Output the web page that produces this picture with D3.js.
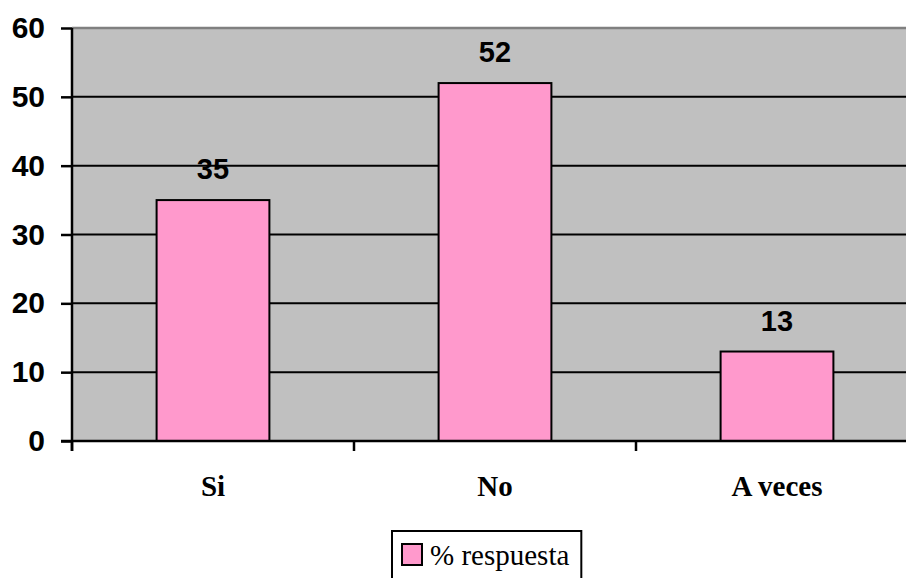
<!DOCTYPE html>
<html>
<head>
<meta charset="utf-8">
<script src="https://cdn.jsdelivr.net/npm/d3@7"></script>
<style>
  html, body { margin: 0; padding: 0; background: #fff; }
  svg { display: block; }
</style>
</head>
<body>
<svg id="chart" width="906" height="578"></svg>
<script>
// Survey answers and their share of responses (%)
const categories = ["Si", "No", "A veces"];
const values = [35, 52, 13];
const yTicks = [0, 10, 20, 30, 40, 50, 60];
const seriesName = "% respuesta";

const svg = d3.select("#chart");
const plot = { left: 72, right: 918, top: 28, bottom: 441 };

const x = d3.scaleBand()
  .domain(categories)
  .range([plot.left, plot.right])
  .paddingInner(0.6)
  .paddingOuter(0.3);

const y = d3.scaleLinear().domain([0, 60]).range([plot.bottom, plot.top]);

// plot area background
svg.append("rect")
  .attr("x", plot.left).attr("y", plot.top)
  .attr("width", plot.right - plot.left).attr("height", plot.bottom - plot.top)
  .attr("fill", "#c0c0c0");

// top border of plot area
svg.append("line")
  .attr("x1", plot.left).attr("x2", plot.right)
  .attr("y1", plot.top).attr("y2", plot.top)
  .attr("stroke", "#808080").attr("stroke-width", 2.5);

// horizontal gridlines
svg.append("g").selectAll("line")
  .data(yTicks.filter(d => d > 0 && d < 60))
  .join("line")
  .attr("x1", plot.left).attr("x2", plot.right)
  .attr("y1", d => y(d)).attr("y2", d => y(d))
  .attr("stroke", "#000").attr("stroke-width", 2);

// bars
svg.append("g").selectAll("rect")
  .data(values)
  .join("rect")
  .attr("x", (d, i) => x(categories[i]))
  .attr("y", d => y(d))
  .attr("width", x.bandwidth())
  .attr("height", d => y(0) - y(d))
  .attr("fill", "#ff99cc")
  .attr("stroke", "#000")
  .attr("stroke-width", 2);

// value labels
svg.append("g").selectAll("text")
  .data(values)
  .join("text")
  .attr("x", (d, i) => x(categories[i]) + x.bandwidth() / 2)
  .attr("y", d => y(d) - 21)
  .attr("text-anchor", "middle")
  .attr("font-family", "Arial, 'Liberation Sans', sans-serif")
  .attr("font-weight", "bold")
  .attr("font-size", 29)
  .text(d => d);

// y axis
const yAxis = d3.axisLeft(y).tickValues(yTicks).tickSize(11).tickSizeOuter(0).tickPadding(16);
const gy = svg.append("g").attr("transform", `translate(${plot.left},0)`).call(yAxis);
gy.select(".domain").attr("stroke", "#000").attr("stroke-width", 2.5)
  .attr("d", `M0,${plot.top}V${plot.bottom + 10}`);
gy.selectAll(".tick line").attr("stroke", "#000").attr("stroke-width", 2.5);
gy.selectAll(".tick text")
  .attr("font-family", "Arial, 'Liberation Sans', sans-serif")
  .attr("font-weight", "bold")
  .attr("font-size", 30)
  .attr("fill", "#000");

// x axis with ticks at category boundaries
const gx = svg.append("g").attr("transform", `translate(0,${plot.bottom})`);
gx.append("line")
  .attr("x1", plot.left - 11).attr("x2", plot.right)
  .attr("y1", 0).attr("y2", 0)
  .attr("stroke", "#000").attr("stroke-width", 2.5);
const step = x.step();
const bounds = d3.range(categories.length + 1).map(i => plot.left + i * step);
gx.selectAll("line.tk")
  .data(bounds)
  .join("line").attr("class", "tk")
  .attr("x1", d => d).attr("x2", d => d)
  .attr("y1", 0).attr("y2", 10)
  .attr("stroke", "#000").attr("stroke-width", 2.5);
gx.selectAll("text")
  .data(categories)
  .join("text")
  .attr("x", d => x(d) + x.bandwidth() / 2)
  .attr("y", 55)
  .attr("text-anchor", "middle")
  .attr("font-family", "'Times New Roman', 'Liberation Serif', serif")
  .attr("font-weight", "bold")
  .attr("font-size", 29)
  .text(d => d);

// legend
const lg = svg.append("g").attr("transform", "translate(392,531)");
const legendText = lg.append("text")
  .attr("x", 38).attr("y", 34)
  .attr("font-family", "'Times New Roman', 'Liberation Serif', serif")
  .attr("font-size", 29)
  .text(seriesName);
const textW = legendText.node().getComputedTextLength();
lg.insert("rect", "text")
  .attr("x", 0).attr("y", 0).attr("width", 38 + textW + 12).attr("height", 60)
  .attr("fill", "#fff").attr("stroke", "#000").attr("stroke-width", 2);
lg.append("rect")
  .attr("x", 10).attr("y", 13).attr("width", 20).attr("height", 21)
  .attr("fill", "#ff99cc").attr("stroke", "#000").attr("stroke-width", 2);
</script>
</body>
</html>
